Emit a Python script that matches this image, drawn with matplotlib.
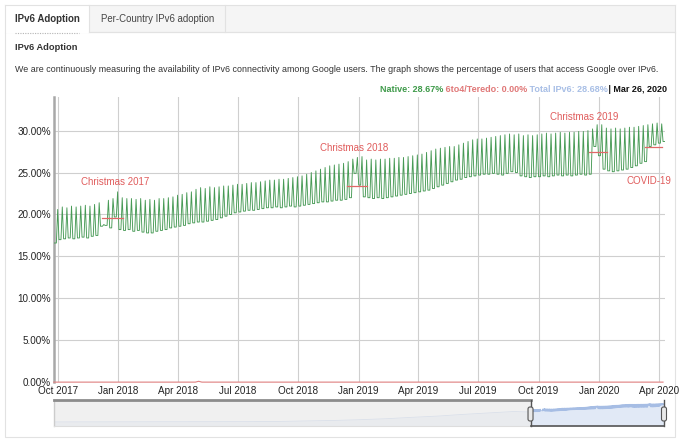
import matplotlib
matplotlib.use("Agg")
import matplotlib.pyplot as plt
import matplotlib.dates as mdates
import numpy as np
import pandas as pd
from matplotlib.patches import Rectangle, FancyBboxPatch
from matplotlib.lines import Line2D
from matplotlib.transforms import IdentityTransform

plt.rcParams['font.family'] = ['Liberation Sans', 'DejaVu Sans']

# ---------------- data ----------------
week_start = "2017-09-25"          # Monday of the first week
# weekday level, one per week (+ final point)
weekday_low = [
    16.6, 17.0, 17.1, 17.2, 17.1, 17.2, 17.3, 17.2, 17.4, 17.5,
    18.6, 18.7, 18.4, 19.7, 18.2, 18.1, 18.2, 18.0, 18.1, 17.9,
    17.8, 17.8, 18.0, 18.1, 18.2, 18.4, 18.5, 18.6, 18.7, 18.9,
    19.0, 19.1, 19.1, 19.2, 19.3, 19.4, 19.6, 19.8, 20.0, 20.2,
    20.3, 20.4, 20.5, 20.5, 20.6, 20.7, 20.8, 20.8, 20.9, 20.8,
    20.9, 21.0, 20.9, 21.0, 21.1, 21.2, 21.3, 21.4, 21.5, 21.5,
    21.6, 21.7, 21.7, 21.8, 22.0, 24.9, 23.5, 22.1, 22.0, 21.9,
    22.0, 21.9, 22.0, 22.1, 22.2, 22.3, 22.4, 22.5, 22.6, 22.7,
    22.8, 22.9, 23.1, 23.3, 23.5, 23.7, 23.9, 24.1, 24.2, 24.4,
    24.5, 24.6, 24.7, 24.8, 24.8, 24.9, 24.8, 24.7, 24.9, 25.1,
    25.0, 24.6, 24.5, 24.4, 24.5, 24.5, 24.6, 24.5, 24.6, 24.7,
    24.6, 24.7, 24.6, 24.7, 24.8, 24.7, 24.8, 28.1, 27.0, 25.4,
    25.2, 25.1, 25.2, 25.3, 25.4, 25.6, 25.8, 26.1, 26.3, 28.1,
    28.3, 28.5, 28.7,
]
# weekend peaks (Sundays), one per week
weekend_high = [
    20.6, 20.9, 20.8, 21.0, 20.9, 21.0, 21.1, 21.0, 21.2, 21.4,
    18.8, 21.7, 21.9, 22.7, 22.0, 21.9, 21.9, 21.8, 21.9, 21.7,
    21.8, 21.7, 21.9, 21.9, 22.0, 22.1, 22.3, 22.4, 22.6, 22.7,
    23.0, 23.2, 23.1, 23.3, 23.2, 23.3, 23.4, 23.4, 23.5, 23.6,
    23.6, 23.7, 23.8, 23.8, 23.9, 24.0, 24.1, 24.1, 24.2, 24.2,
    24.3, 24.4, 24.5, 24.6, 24.8, 25.0, 25.2, 25.4, 25.6, 25.8,
    25.9, 26.0, 26.1, 26.3, 26.6, 26.8, 26.9, 26.5, 26.6, 26.5,
    26.6, 26.6, 26.7, 26.7, 26.8, 26.8, 26.9, 27.0, 27.1, 27.2,
    27.4, 27.6, 27.8, 27.9, 28.0, 28.1, 28.1, 28.3, 28.5, 28.7,
    28.9, 29.0, 29.0, 29.1, 29.2, 29.3, 29.4, 29.5, 29.6, 29.5,
    29.6, 29.4, 29.5, 29.4, 29.5, 29.6, 29.7, 29.6, 29.7, 29.8,
    29.7, 29.8, 29.8, 29.9, 29.9, 30.0, 30.2, 30.7, 30.7, 30.3,
    30.2, 30.3, 30.2, 30.3, 30.4, 30.4, 30.5, 30.6, 30.7, 30.8,
    30.9, 30.8,
]
# 6to4/Teredo (practically zero, a small blip in spring 2018)
teredo_dates = ["2017-09-25", "2018-04-28", "2018-05-03", "2018-05-08", "2020-04-07"]
teredo_vals = [0.02, 0.02, 0.12, 0.02, 0.02]

# earlier history shown in the range-selector overview
history_dates = ["2008-09-01", "2009-06-01", "2010-06-01", "2011-06-01", "2012-06-01",
                 "2013-01-01", "2013-06-01", "2014-01-01", "2014-06-01", "2015-01-01",
                 "2015-06-01", "2016-01-01", "2016-06-01", "2017-01-01", "2017-06-01"]
history_vals = [0.1, 0.2, 0.25, 0.35, 0.6, 1.0, 1.6, 2.6, 3.6, 5.5, 7.5, 10.0, 12.5, 15.5, 17.5]

# annotations: label, period start, period end, level
ann_labels = ["Christmas 2017", "Christmas 2018", "Christmas 2019", "COVID-19"]
ann_start = ["2017-12-07", "2018-12-14", "2019-12-17", "2020-03-10"]
ann_end = ["2018-01-08", "2019-01-13", "2020-01-13", "2020-04-05"]
ann_level = [19.6, 23.4, 27.4, 28.0]

x_tick_dates = ["2017-10-01", "2018-01-01", "2018-04-01", "2018-07-01", "2018-10-01",
                "2019-01-01", "2019-04-01", "2019-07-01", "2019-10-01", "2020-01-01",
                "2020-04-01"]
x_tick_labels = ["Oct 2017", "Jan 2018", "Apr 2018", "Jul 2018", "Oct 2018", "Jan 2019",
                 "Apr 2019", "Jul 2019", "Oct 2019", "Jan 2020", "Apr 2020"]
y_ticks = [0, 5, 10, 15, 20, 25, 30]

legend_parts = ["Native: 28.67%", " 6to4/Teredo: 0.00%", " Total IPv6: 28.68%", " | Mar 26, 2020"]
legend_colors = ["#3f9a4a", "#e07878", "#a8bfe6", "#111111"]

# ---------------- build series (weekday level Tue..Fri, weekend peak Sun) ----------------
mondays = pd.date_range(week_start, periods=len(weekday_low), freq="7D")
s_dates, s_vals = [], []
for i in range(len(weekday_low)):
    s_dates += [mondays[i] + pd.Timedelta(days=1), mondays[i] + pd.Timedelta(days=4)]
    s_vals += [weekday_low[i], weekday_low[i]]
    if i < len(weekend_high):
        s_dates.append(mondays[i] + pd.Timedelta(days=6))
        s_vals.append(weekend_high[i])

# ---------------- figure ----------------
W, H = 680, 443
fig = plt.figure(figsize=(W / 100, H / 100), dpi=100)
renderer = fig.canvas.get_renderer()


def fx(x):
    return x / W


def fy(y):
    return 1 - y / H


def rect(x0, y0, x1, y1, **kw):
    fig.add_artist(Rectangle((fx(x0), fy(y1)), (x1 - x0) / W, (y1 - y0) / H, **kw))


def hline(x0, x1, y, **kw):
    fig.add_artist(Line2D([fx(x0), fx(x1)], [fy(y), fy(y)], **kw))


def vline(x, y0, y1, **kw):
    fig.add_artist(Line2D([fx(x), fx(x)], [fy(y0), fy(y1)], **kw))


def fit_text(x, y, s, target_w, ha="left", **kw):
    t = fig.text(fx(x), fy(y), s, fontsize=10, va="center", ha=ha, **kw)
    w = t.get_window_extent(renderer).width
    t.set_fontsize(10 * target_w / w)
    return t


# tab strip and panel
border = "#e2e2e2"
rect(5, 5, 675, 32, facecolor="#f5f5f5", edgecolor="none", zorder=0)
rect(5, 32, 675, 437, facecolor="white", edgecolor=border, lw=0.8, zorder=0)
rect(5, 5, 89, 32.5, facecolor="white", edgecolor="none", zorder=0.5)
hline(5, 675, 5, color=border, lw=0.8)
vline(5, 5, 32, color=border, lw=0.8)
vline(89, 5, 32, color=border, lw=0.8)
vline(225, 5, 32, color=border, lw=0.8)
vline(675, 5, 32, color=border, lw=0.8)
hline(89, 675, 32, color=border, lw=0.8)
hline(15, 79, 33, color="#b5b5b5", lw=0.8, linestyle=(0, (1, 1.2)))

fit_text(15, 18.5, "IPv6 Adoption", 65, color="#333333", fontweight="bold")
fit_text(101, 18.5, "Per-Country IPv6 adoption", 114, color="#444444")
fit_text(15, 48, "IPv6 Adoption", 62, color="#333333", fontweight="bold")
fit_text(15, 69, "We are continuously measuring the availability of IPv6 connectivity among "
         "Google users. The graph shows the percentage of users that access Google over IPv6.",
         642, color="#333333")

# legend line (multi-coloured)
tmp = []
for p in legend_parts:
    t = fig.text(0, 0, p, fontsize=10, fontweight="bold")
    tmp.append(t.get_window_extent(renderer).width)
    t.remove()
scale = 287 / sum(tmp)
xcur = 380
for p, c, w in zip(legend_parts, legend_colors, tmp):
    fig.text(fx(xcur), fy(89.5), p, fontsize=10 * scale, fontweight="bold", color=c,
             va="center", ha="left")
    xcur += w * scale

# ---------------- main chart ----------------
x_left = pd.Timestamp("2017-09-25 10:00")
x_right = pd.Timestamp("2020-04-10")
ax = fig.add_axes([fx(54), fy(382.3), (665 - 54) / W, (382.3 - 97) / H])
ax.set_facecolor("none")
ax.set_xlim(x_left, x_right)
ax.set_ylim(0, 34)
ax.set_xticks(pd.to_datetime(x_tick_dates))
ax.set_xticklabels(x_tick_labels)
ax.set_yticks(y_ticks)
ax.set_yticklabels([f"{v:.2f}%" for v in y_ticks])
ax.tick_params(axis="both", length=0, labelsize=7.1, colors="#222222")
ax.tick_params(axis="x", pad=3.0)
ax.tick_params(axis="y", pad=2.3)
ax.grid(True, color="#cfcfcf", lw=0.8)
ax.set_axisbelow(True)
for sp in ["top", "right", "bottom"]:
    ax.spines[sp].set_visible(False)
ax.spines["left"].set_color("#a8a8a8")
ax.spines["left"].set_linewidth(1.8)

ax.plot(pd.to_datetime(teredo_dates), teredo_vals, color="#e08080", lw=0.8, clip_on=False, zorder=3)
ax.plot(s_dates, s_vals, color="#479a55", lw=0.65, zorder=4)

dxs = [3, -3, -14, -4]
dys = [36, 38, 35, -34]
for lab, a, b, lev, dx, dy in zip(ann_labels, ann_start, ann_end, ann_level, dxs, dys):
    a, b = pd.Timestamp(a), pd.Timestamp(b)
    ax.plot([a, b], [lev, lev], color="#e06868", lw=0.9, zorder=5)
    mid = a + (b - a) / 2
    ax.annotate(lab, (mid, lev), xytext=(dx * 0.72, dy * 0.72), textcoords="offset points",
                ha="center", va="center", fontsize=7.0, color="#e05c5c", zorder=6)

# ---------------- range selector ----------------
ov_left = pd.Timestamp("2008-09-01")
ax_ov = fig.add_axes([fx(54), fy(426), (664 - 54) / W, 26 / H])
ax_ov.set_xlim(ov_left, x_right)
ax_ov.set_ylim(-6.7, 36.7)
ax_ov.axis("off")
ov_dates = list(pd.to_datetime(history_dates)) + s_dates
ov_vals = history_vals + s_vals
ax_ov.fill_between(ov_dates, ov_vals, -6.7, color="#e1e9f6", lw=0, zorder=1)
ax_ov.plot(ov_dates, ov_vals, color="#a6bde4", lw=0.6, zorder=2)
ax_ov.axvspan(ov_left, x_left, color="#ececec", alpha=0.75, lw=0, zorder=3)

x0p = ax_ov.transData.transform((mdates.date2num(ov_left), 0))[0]
xwl = ax_ov.transData.transform((mdates.date2num(x_left), 0))[0]
xwr = ax_ov.transData.transform((mdates.date2num(x_right), 0))[0]
# outline
vline(x0p, 400, 426, color="#cccccc", lw=1.0)
hline(x0p, xwl, 426, color="#dddddd", lw=0.8)
hline(x0p, xwl, 400, color="#8c8c8c", lw=2.0)
hline(xwl, xwr, 426, color="#555555", lw=1.2)
vline(xwl, 400, 426, color="#555555", lw=1.0)
vline(xwr, 400, 426, color="#555555", lw=1.0)
for xp in (xwl, xwr):
    fig.add_artist(FancyBboxPatch((xp - 2.5, H - 421), 5, 14,
                                  boxstyle="round,pad=0,rounding_size=2",
                                  transform=IdentityTransform(), facecolor="#e9e9e9",
                                  edgecolor="#555555", lw=0.8, zorder=10))

fig.savefig("out.png", dpi=100)
